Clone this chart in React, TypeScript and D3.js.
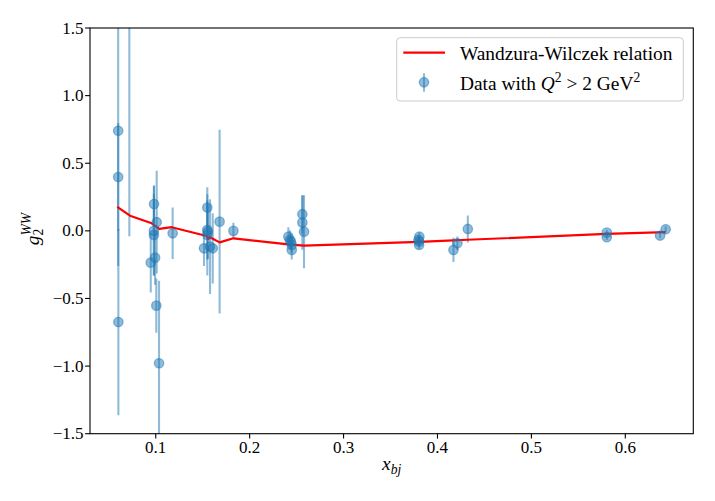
import React from "react";
import * as d3 from "d3";

// ---- data ----
const dataX = [
  0.06, 0.06, 0.0602, 0.0719, 0.0982, 0.101, 0.098, 0.098, 0.0947, 0.0993, 0.1006, 0.1035, 0.118,
  0.1549, 0.1549, 0.1555, 0.1549, 0.1514, 0.1578, 0.1607, 0.168, 0.1827,
  0.2412, 0.2429, 0.244, 0.2448, 0.2448, 0.2561, 0.2561, 0.2579,
  0.3807, 0.3804, 0.3804, 0.3797, 0.417, 0.4212, 0.4323,
  0.5803, 0.5803, 0.637, 0.643,
];
const dataY = [
  0.74, 0.398, -0.674, 1.75, 0.198, 0.064, 0.0, -0.03, -0.235, -0.198, -0.553, -0.979, -0.018,
  0.172, 0.007, -0.006, -0.03, -0.129, -0.117, -0.129, 0.068, 0.0,
  -0.043, -0.067, -0.08, -0.104, -0.141, 0.123, 0.061, -0.006,
  -0.043, -0.08, -0.104, -0.067, -0.141, -0.092, 0.014,
  -0.013, -0.047, -0.035, 0.012,
];
const dataErr = [
  1.0, 0.4, 0.69, 1.79, 0.14, 0.38, 0.33, 0.3, 0.22, 0.2, 0.2, 0.61, 0.19,
  0.15, 0.22, 0.2, 0.3, 0.13, 0.35, 0.26, 0.68, 0.06,
  0.07, 0.07, 0.06, 0.06, 0.07, 0.14, 0.2, 0.27,
  0.03, 0.03, 0.03, 0.03, 0.09, 0.05, 0.1,
  0.02, 0.02, 0.02, 0.02,
];
const wwX = [
  0.059, 0.0726, 0.0957, 0.1038, 0.117, 0.1543, 0.156, 0.1578, 0.168, 0.1827,
  0.2412, 0.258, 0.3805, 0.417, 0.432, 0.58, 0.643,
];
const wwY = [
  0.177, 0.112, 0.056, 0.014, 0.027, -0.038, -0.058, -0.047, -0.085, -0.055,
  -0.1, -0.109, -0.082, -0.07, -0.066, -0.023, -0.01,
];
const xTicks = [0.1, 0.2, 0.3, 0.4, 0.5, 0.6];
const yTicks = [-1.5, -1.0, -0.5, 0.0, 0.5, 1.0, 1.5];
const xDomain = [0.03, 0.6724];
const yDomain = [-1.5, 1.5];

const W = 715;
const H = 501;
const left = 90, right = 693.3, top = 28, bottom = 433.7;
const BLUE = "#1f77b4";
const FONT = "'Liberation Serif', 'DejaVu Serif', serif";

const fmt = (v: number) => {
  const s = Math.abs(v).toFixed(1);
  return v < 0 ? "\u2212" + s : s;
};

export default function App() {
  const x = d3.scaleLinear().domain(xDomain).range([left, right]);
  const y = d3.scaleLinear().domain(yDomain).range([bottom, top]);
  const line = d3
    .line<number>()
    .x((_, i) => x(wwX[i]))
    .y((d) => y(d));

  return (
    <svg
      width={W}
      height={H}
      style={{ position: "absolute", left: 0, top: 0, background: "#fff" }}
      fontFamily={FONT}
    >
      <defs>
        <clipPath id="plot">
          <rect x={left} y={top} width={right - left} height={bottom - top} />
        </clipPath>
      </defs>
      <rect x={0} y={0} width={W} height={H} fill="#fff" />

      <g clipPath="url(#plot)">
        {/* error bars */}
        {dataX.map((d, i) => (
          <line
            key={"e" + i}
            x1={x(d)}
            x2={x(d)}
            y1={y(dataY[i] - dataErr[i])}
            y2={y(dataY[i] + dataErr[i])}
            stroke={BLUE}
            strokeOpacity={0.5}
            strokeWidth={2.1}
          />
        ))}
        {/* WW line */}
        <path d={line(wwY) || ""} fill="none" stroke="#ff0000" strokeWidth={2.2} strokeLinejoin="round" />
        {/* markers */}
        {dataX.map((d, i) => (
          <circle
            key={"m" + i}
            cx={x(d)}
            cy={y(dataY[i])}
            r={4.7}
            fill={BLUE}
            fillOpacity={0.5}
            stroke={BLUE}
            strokeOpacity={0.5}
            strokeWidth={1.3}
          />
        ))}
      </g>

      {/* frame */}
      <rect
        x={left}
        y={top}
        width={right - left}
        height={bottom - top}
        fill="none"
        stroke="#000"
        strokeWidth={1.1}
      />

      {/* x ticks */}
      {xTicks.map((t) => (
        <g key={"xt" + t}>
          <line x1={x(t)} x2={x(t)} y1={bottom} y2={bottom + 4.9} stroke="#000" strokeWidth={1.1} />
          <text x={x(t)} y={453.3} textAnchor="middle" fontSize={17} fill="#000">
            {fmt(t)}
          </text>
        </g>
      ))}
      {/* y ticks */}
      {yTicks.map((t) => (
        <g key={"yt" + t}>
          <line x1={left - 4.9} x2={left} y1={y(t)} y2={y(t)} stroke="#000" strokeWidth={1.1} />
          <text x={83.5} y={y(t) + 5.6} textAnchor="end" fontSize={17} fill="#000">
            {fmt(t)}
          </text>
        </g>
      ))}

      {/* axis labels */}
      <text x={(left + right) / 2} y={470} textAnchor="middle" fontSize={19.4} fill="#000">
        <tspan fontStyle="italic">x</tspan>
        <tspan fontStyle="italic" fontSize={13.6} dy={4}>
          bj
        </tspan>
      </text>
      <text
        transform={`translate(39, 229) rotate(-90)`}
        textAnchor="middle"
        fontSize={19.4}
        fill="#000"
      >
        <tspan fontStyle="italic">g</tspan>
        <tspan fontSize={13.6} dy={4}>
          2
        </tspan>
        <tspan fontStyle="italic" fontSize={13.6} dx={-6.8} dy={-12}>
          WW
        </tspan>
      </text>

      {/* legend */}
      <g>
        <rect
          x={396.7}
          y={37.7}
          width={286.6}
          height={63.3}
          rx={3.5}
          fill="#fff"
          fillOpacity={0.8}
          stroke="#cccccc"
          strokeWidth={1}
        />
        <line x1={403.3} x2={445} y1={52.7} y2={52.7} stroke="#ff0000" strokeWidth={2.2} />
        <text x={460} y={60} fontSize={19.4} fill="#000">
          Wandzura-Wilczek relation
        </text>
        <line x1={424} x2={424} y1={73.3} y2={91.7} stroke={BLUE} strokeOpacity={0.5} strokeWidth={2.1} />
        <circle cx={424} cy={82.3} r={4.7} fill={BLUE} fillOpacity={0.5} stroke={BLUE} strokeOpacity={0.5} strokeWidth={1.3} />
        <text x={460} y={90} fontSize={19.4} fill="#000">
          <tspan>Data with </tspan>
          <tspan fontStyle="italic">Q</tspan>
          <tspan fontSize={13.6} dy={-8}>2</tspan>
          <tspan dy={8}> &gt; 2 GeV</tspan>
          <tspan fontSize={13.6} dy={-8}>2</tspan>
        </text>
      </g>
    </svg>
  );
}
